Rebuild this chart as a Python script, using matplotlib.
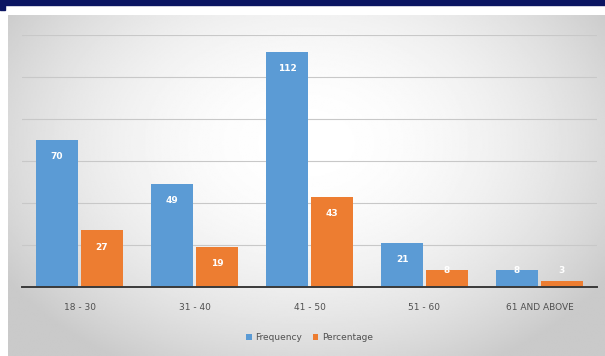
import numpy as np
import matplotlib.pyplot as plt

age_groups = ["18 - 30", "31 - 40", "41 - 50", "51 - 60", "61 AND ABOVE"]
frequency = [70, 49, 112, 21, 8]
percentage = [27, 19, 43, 8, 3]

blue = "#5b9bd5"
orange = "#ed7d31"

fig = plt.figure(figsize=(6.05, 3.56), dpi=100)
fig.patch.set_facecolor("white")

# slide-style background: navy strip on top, grey radial panel below
bg = fig.add_axes([0, 0, 1, 1], zorder=-10)
bg.set_xlim(0, 605)
bg.set_ylim(356, 0)
bg.axis("off")
gx, gy = np.meshgrid(np.linspace(-1, 1, 400), np.linspace(-1, 1, 240))
r = np.sqrt(gx ** 2 + (gy * 0.8 + 0.2) ** 2)
shade = 1.0 - 0.21 * (np.clip(r, 0, 1.2) / 1.2) ** 2
bg.imshow(shade, cmap="gray", vmin=0, vmax=1, extent=[8, 605, 356, 15],
          aspect="auto", interpolation="bilinear")
bg.add_patch(plt.Rectangle((0, 0), 605, 5, color="#0b1562"))
bg.add_patch(plt.Rectangle((0, 0), 5, 10, color="#0b1562"))

ax = fig.add_axes([22 / 605, 69 / 356, 575 / 605, 252 / 356])
ax.set_facecolor("none")

x = np.arange(len(age_groups))
w = 0.37
b1 = ax.bar(x - w / 2 - 0.01, frequency, w, color=blue, label="Frequency", zorder=3)
b2 = ax.bar(x + w / 2 + 0.01, percentage, w, color=orange, label="Percentage", zorder=3)

for bars, vals in ((b1, frequency), (b2, percentage)):
    for bar, v in zip(bars, vals):
        ax.text(bar.get_x() + bar.get_width() / 2, max(v - 8, 8), str(v),
                ha="center", va="center", color="white", fontsize=6.5,
                fontweight="bold", zorder=4)

ax.set_xlim(-0.5, len(age_groups) - 0.5)
ax.set_ylim(0, 120)
ax.set_yticks(np.arange(0, 121, 20))
ax.yaxis.grid(True, color="#c8c8c8", linewidth=0.8, zorder=0)
ax.tick_params(axis="y", left=False, labelleft=False)
ax.tick_params(axis="x", bottom=False, labelsize=6.5, labelcolor="#505050", pad=8)
ax.set_xticks(x)
ax.set_xticklabels(age_groups)
for s in ("top", "right", "left"):
    ax.spines[s].set_visible(False)
ax.spines["bottom"].set_color("#3a3a3a")
ax.spines["bottom"].set_linewidth(1.4)
ax.spines["bottom"].set_zorder(5)

leg = ax.legend(loc="upper center", bbox_to_anchor=(0.5, -0.15), ncol=2,
                frameon=False, fontsize=6.5, handlelength=0.6, handleheight=0.6,
                handletextpad=0.4, columnspacing=1.2)
for t in leg.get_texts():
    t.set_color("#505050")

fig.savefig("out.png", dpi=100)
